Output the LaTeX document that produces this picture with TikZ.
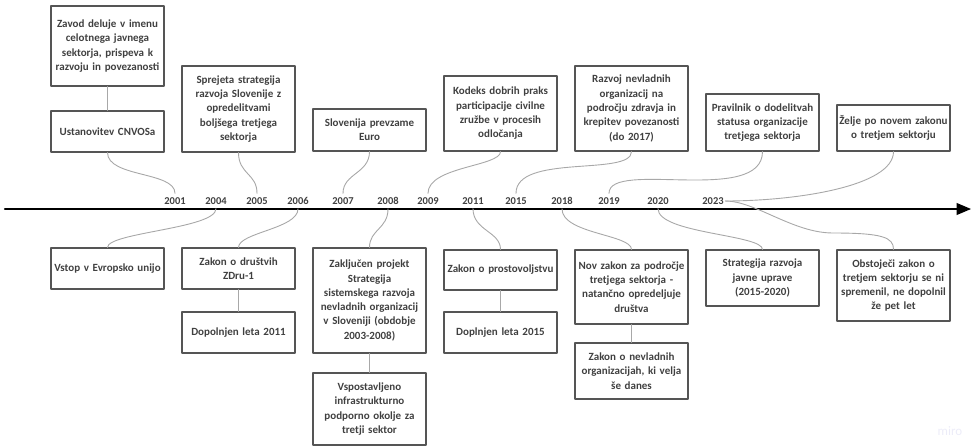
\documentclass[tikz,border=0pt]{standalone}
\usepackage{fontspec}
\setmainfont{Carlito}
\usetikzlibrary{arrows}
\definecolor{boxgray}{HTML}{555555}
\definecolor{txtgray}{HTML}{404040}
\definecolor{linkgray}{HTML}{A8A8A8}
\definecolor{mirogray}{HTML}{ECECF8}

\begin{document}
\begin{tikzpicture}[line cap=round,line join=round,>=triangle 45,x=1pt,y=-1pt,
  evbox/.style={draw=boxgray,line width=1.1pt,text=txtgray,
    font=\bfseries\fontsize{11}{14.3}\selectfont,align=center,
    text width=113pt,inner xsep=0pt,inner ysep=0pt},
  yearlbl/.style={text=txtgray,font=\bfseries\fontsize{10.5}{12}\selectfont,
    inner xsep=1.5pt,inner ysep=4pt},
  link/.style={draw=linkgray,line width=0.9pt}]

\useasboundingbox (0,0) rectangle (971,447);

% time axis
\coordinate (axL) at (5,209);
\coordinate (axR) at (971,209);
\draw[->,line width=2.4pt,color=black] (axL) -- (axR);

% years
\node[yearlbl] (y2001) at (175,201) {2001};
\node[yearlbl] (y2004) at (216,201) {2004};
\node[yearlbl] (y2005) at (257,201) {2005};
\node[yearlbl] (y2006) at (298,201) {2006};
\node[yearlbl] (y2007) at (343,201) {2007};
\node[yearlbl] (y2008) at (388,201) {2008};
\node[yearlbl] (y2009) at (428,201) {2009};
\node[yearlbl] (y2011) at (473,201) {2011};
\node[yearlbl] (y2015) at (516,201) {2015};
\node[yearlbl] (y2018) at (562,201) {2018};
\node[yearlbl] (y2019) at (609,201) {2019};
\node[yearlbl] (y2020) at (658,201) {2020};
\node[yearlbl] (y2023) at (713,201) {2023};

% events above the axis
\node[evbox,minimum height=80pt] (zavod) at (107.5,46) {Zavod deluje v imenu\\celotnega javnega\\sektorja, prispeva k\\razvoju in povezanosti};
\node[evbox,minimum height=41pt] (cnvos) at (107.5,131.5) {Ustanovitev CNVOSa};
\node[evbox,minimum height=86pt] (sprejeta) at (238.5,109) {Sprejeta strategija\\razvoja Slovenije z\\opredelitvami\\boljšega tretjega\\sektorja};
\node[evbox,minimum height=42pt] (euro) at (369.5,130) {Slovenija prevzame\\Euro};
\node[evbox,minimum height=75pt] (kodeks) at (500.5,113.5) {Kodeks dobrih praks\\participacije civilne\\zružbe v procesih\\odločanja};
\node[evbox,minimum height=85pt] (razvoj) at (631.5,108.5) {Razvoj nevladnih\\organizacij na\\področju zdravja in\\krepitev povezanosti\\(do 2017)};
\node[evbox,minimum height=57pt] (pravilnik) at (762.5,122.5) {Pravilnik o dodelitvah\\statusa organizacije\\tretjega sektorja};
\node[evbox,minimum height=46pt] (zelje) at (893.5,128) {Želje po novem zakonu\\o tretjem sektorju};

% events below the axis
\node[evbox,minimum height=41pt] (vstop) at (107.5,268.5) {Vstop v Evropsko unijo};
\node[evbox,minimum height=41pt] (zdru) at (238.5,268.5) {Zakon o društvih\\ZDru-1};
\node[evbox,minimum height=41pt] (dop2011) at (238.5,332.5) {Dopolnjen leta 2011};
\node[evbox,minimum height=105pt] (projekt) at (369.5,300.5) {Zaključen projekt\\Strategija\\sistemskega razvoja\\nevladnih organizacij\\v Sloveniji (obdobje\\2003-2008)};
\node[evbox,minimum height=72pt] (okolje) at (369.5,409) {Vspostavljeno\\infrastrukturno\\podporno okolje za\\tretji sektor};
\node[evbox,minimum height=40pt] (prostov) at (500.5,270) {Zakon o prostovoljstvu};
\node[evbox,minimum height=41pt] (dop2015) at (500.5,332.5) {Doplnjen leta 2015};
\node[evbox,minimum height=74pt] (novzakon) at (631.5,287) {Nov zakon za področje\\tretjega sektorja -\\natančno opredeljuje\\društva};
\node[evbox,minimum height=56pt] (nevladne) at (631.5,371) {Zakon o nevladnih\\organizacijah, ki velja\\še danes};
\node[evbox,minimum height=56pt] (uprava) at (762.5,278) {Strategija razvoja\\javne uprave\\(2015-2020)};
\node[evbox,minimum height=71pt] (obstojeci) at (893.5,285.5) {Obstoječi zakon o\\tretjem sektorju se ni\\spremenil, ne dopolnil\\že pet let};

% connectors above
\draw[link] (zavod.south) -- (cnvos.north);
\draw[link] (cnvos.south) .. controls +(0,25) and +(0,-22) .. (y2001.north);
\draw[link] (sprejeta.south) .. controls +(0,22) and +(0,-20) .. (y2005.north);
\draw[link] (euro.south) .. controls +(0,22) and +(0,-20) .. (y2007.north);
\draw[link] (kodeks.south) .. controls +(0,15) and +(0,-27) .. (y2009.north);
\draw[link] (razvoj.south) .. controls +(0,25) and +(0,-40) .. (y2015.north);
\draw[link] (pravilnik.south) .. controls +(0,54) and +(0,-34) .. (y2019.north);
\draw[link] (y2023.east) .. controls +(70,0) and +(0,35) .. (zelje.south);

% connectors below
\coordinate (obstbend) at (833,233);
\draw[link] (y2004.south) .. controls +(0,20) and +(0,-15) .. (vstop.north);
\draw[link] (y2006.south) .. controls +(0,20) and +(0,-15) .. (zdru.north);
\draw[link] (zdru.south) -- (dop2011.north);
\draw[link] (y2008.south) .. controls +(0,20) and +(0,-18) .. (projekt.north);
\draw[link] (projekt.south) -- (okolje.north);
\draw[link] (y2011.south) .. controls +(0,22) and +(0,-18) .. (prostov.north);
\draw[link] (prostov.south) -- (dop2015.north);
\draw[link] (y2018.south) .. controls +(0,25) and +(0,-15) .. (novzakon.north);
\draw[link] (novzakon.south) -- (nevladne.north);
\draw[link] (y2020.south) .. controls +(0,25) and +(0,-15) .. (uprava.north);
\draw[link] (y2023.east) .. controls +(30,0) and +(-40,0) .. (obstbend) .. controls +(50,0) and +(0,-12) .. (obstojeci.north);

\node[text=mirogray,font=\fontsize{13}{13}\selectfont] (miro) at (950,431) {miro};
\end{tikzpicture}
\end{document}
